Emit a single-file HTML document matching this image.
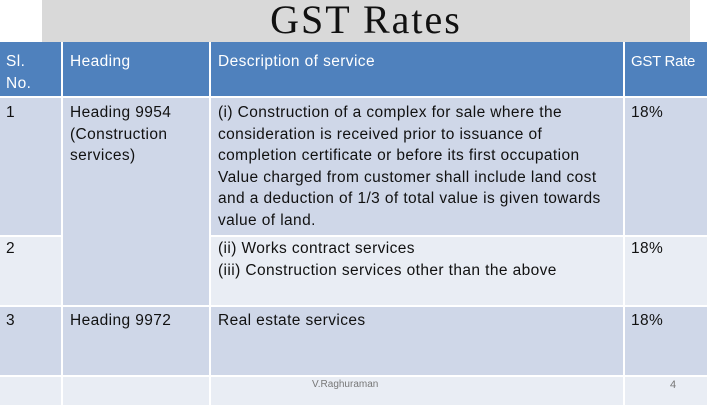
<!DOCTYPE html>
<html><head><meta charset="utf-8"><style>
body{margin:0;width:720px;height:405px;background:#fff;position:relative;overflow:hidden;font-family:"Liberation Sans",sans-serif;}
.t{position:absolute;}
.c{position:absolute;box-sizing:border-box;}
.txt{position:absolute;font-size:15.5px;line-height:21.6px;color:#111;letter-spacing:0.4px;white-space:nowrap;}
.h{color:#fff;}
</style></head><body>
<div class="t" style="left:42px;top:0;width:648px;height:42px;background:#d9d9d9;"></div>
<div class="t" style="left:42px;top:-2px;width:648px;text-align:center;font-family:'Liberation Serif',serif;font-size:40px;line-height:44px;letter-spacing:2px;color:#111;">GST Rates</div>

<div>
<div class="c" style="left:0;top:42px;width:708px;height:55px;background:#4f81bd;"></div>
<div class="c" style="left:0;top:97px;width:708px;height:139px;background:#cfd7e8;"></div>
<div class="c" style="left:0;top:236px;width:708px;height:70px;background:#e9edf4;"></div>
<div class="c" style="left:0;top:306px;width:708px;height:70px;background:#cfd7e8;"></div>
<div class="c" style="left:0;top:376px;width:708px;height:29px;background:#e9edf4;"></div>
<div class="c" style="left:62px;top:97px;width:148px;height:209px;background:#cfd7e8;"></div>
<div class="c" style="left:0;top:96px;width:708px;height:2px;background:#fff;"></div>
<div class="c" style="left:0;top:235px;width:62px;height:2px;background:#fff;"></div>
<div class="c" style="left:210px;top:235px;width:498px;height:2px;background:#fff;"></div>
<div class="c" style="left:0;top:305px;width:708px;height:2px;background:#fff;"></div>
<div class="c" style="left:0;top:375px;width:708px;height:2px;background:#fff;"></div>
<div class="c" style="left:61px;top:42px;width:2px;height:363px;background:#fff;"></div>
<div class="c" style="left:209px;top:42px;width:2px;height:363px;background:#fff;"></div>
<div class="c" style="left:623px;top:42px;width:2px;height:363px;background:#fff;"></div>
<div class="c" style="left:707px;top:42px;width:2px;height:363px;background:#fff;"></div>
</div>

<div class="txt h" style="left:6px;top:51px;">Sl.<br>No.</div>
<div class="txt h" style="left:70px;top:51px;">Heading</div>
<div class="txt h" style="left:218px;top:51px;">Description of service</div>
<div class="txt h" style="left:631px;top:51px;letter-spacing:-0.3px;font-size:15px;">GST Rate</div>

<div class="txt" style="left:6px;top:102px;">1</div>
<div class="txt" style="left:70px;top:102px;">Heading 9954<br>(Construction<br>services)</div>
<div class="txt" style="left:218px;top:102px;">(i) Construction of a complex for sale where the<br>consideration is received prior to issuance of<br>completion certificate or before its first occupation<br>Value charged from customer shall include land cost<br>and a deduction of 1/3 of total value is given towards<br>value of land.</div>
<div class="txt" style="left:631px;top:102px;">18%</div>

<div class="txt" style="left:6px;top:238px;">2</div>
<div class="txt" style="left:218px;top:238px;">(ii) Works contract services<br>(iii) Construction services other than the above</div>
<div class="txt" style="left:631px;top:238px;">18%</div>

<div class="txt" style="left:6px;top:310px;">3</div>
<div class="txt" style="left:70px;top:310px;">Heading 9972</div>
<div class="txt" style="left:218px;top:310px;">Real estate services</div>
<div class="txt" style="left:631px;top:310px;">18%</div>

<div class="t" style="left:312px;top:379px;font-size:10px;color:#777;">V.Raghuraman</div>
<div class="t" style="left:670px;top:379px;font-size:11px;color:#777;">4</div>
</body></html>
